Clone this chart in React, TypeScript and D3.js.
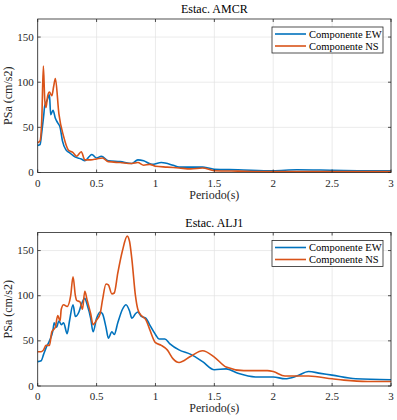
import React from 'react';
import * as d3 from 'd3';

// periods (s) and spectral accelerations (cm/s2)
const amcrEwT = [0, 0.02, 0.035, 0.05, 0.06, 0.08, 0.1, 0.11, 0.13, 0.15, 0.17, 0.19, 0.21, 0.24, 0.27, 0.32, 0.37, 0.4, 0.44, 0.46, 0.5, 0.54, 0.6, 0.7, 0.8, 0.85, 0.9, 0.97, 1.05, 1.15, 1.2, 1.3, 1.4, 1.45, 1.5, 1.7, 2.0, 2.2, 2.5, 2.8, 3.0];
const amcrEw = [30, 31, 45, 62, 74, 80, 86, 64, 69, 60, 55, 50, 35, 25, 22, 17, 15, 13, 18, 20, 16, 18, 13, 12, 10, 14, 13, 9, 11, 8, 6, 6, 6, 5, 3.5, 3, 2, 3, 2.5, 2, 2];
const amcrNsT = [0, 0.02, 0.035, 0.048, 0.06, 0.07, 0.085, 0.1, 0.12, 0.135, 0.15, 0.18, 0.22, 0.26, 0.3, 0.33, 0.37, 0.4, 0.45, 0.5, 0.55, 0.6, 0.7, 0.8, 0.85, 0.9, 0.95, 1.0, 1.1, 1.2, 1.3, 1.4, 1.5, 1.7, 2.0, 2.5, 3.0];
const amcrNs = [33, 35, 60, 118, 80, 72, 85, 89, 85, 95, 104, 65, 40, 25, 22, 18, 23, 14, 14, 15, 16, 12, 11, 10, 11, 8, 9, 7, 6, 5, 4, 5, 2, 1.5, 1, 1, 1];

const alj1EwT = [0, 0.03, 0.05, 0.07, 0.1, 0.13, 0.14, 0.16, 0.18, 0.2, 0.22, 0.25, 0.27, 0.3, 0.32, 0.35, 0.37, 0.4, 0.42, 0.45, 0.47, 0.5, 0.53, 0.55, 0.58, 0.6, 0.63, 0.65, 0.68, 0.72, 0.75, 0.78, 0.8, 0.83, 0.85, 0.88, 0.92, 0.95, 1.0, 1.03, 1.08, 1.12, 1.2, 1.3, 1.4, 1.5, 1.6, 1.7, 1.85, 2.0, 2.1, 2.2, 2.3, 2.4, 2.5, 2.7, 3.0];
const alj1Ew = [27, 28, 35, 42, 50, 62, 70, 65, 72, 68, 70, 58, 72, 90, 77, 82, 90, 97, 90, 75, 60, 75, 82, 80, 65, 53, 60, 57, 70, 85, 90, 83, 75, 80, 82, 77, 75, 68, 57, 52, 52, 47, 40, 35, 27, 18, 19, 14, 10, 10, 8, 11, 16, 14, 12, 8, 7];
const alj1NsT = [0, 0.03, 0.05, 0.07, 0.1, 0.12, 0.15, 0.17, 0.19, 0.2, 0.22, 0.25, 0.28, 0.3, 0.32, 0.33, 0.36, 0.38, 0.4, 0.42, 0.45, 0.47, 0.5, 0.53, 0.55, 0.58, 0.6, 0.63, 0.65, 0.68, 0.72, 0.76, 0.78, 0.8, 0.83, 0.85, 0.88, 0.92, 0.95, 1.0, 1.05, 1.1, 1.15, 1.2, 1.3, 1.4, 1.5, 1.6, 1.75, 1.95, 2.0, 2.1, 2.3, 2.5, 2.6, 2.8, 3.0];
const alj1Ns = [38, 38, 40, 45, 45, 60, 65, 78, 72, 85, 90, 88, 100, 121, 100, 95, 93, 85, 105, 95, 80, 68, 73, 80, 95, 113, 112, 102, 103, 125, 150, 166, 160, 140, 100, 85, 78, 73, 63, 48, 45, 40, 30, 26, 33, 39, 32, 21, 17, 17, 16, 11, 11, 8, 6.5, 5, 5];

const xTicks = [0, 0.5, 1, 1.5, 2, 2.5, 3];
const yTicks = [0, 50, 100, 150];
const seriesNames = ['Componente EW', 'Componente NS'];
const colors = ['#0072BD', '#D95319'];

const W = 397, H = 420;
const font = 'Liberation Serif';

function Panel({ top, title, ew, ewT, ns, nsT }: any) {
  const x = d3.scaleLinear().domain([0, 3]).range([37.7, 391]);
  const y = d3.scaleLinear().domain([0, 170]).range([top + 153.5, top]);
  const line = d3.line<[number, number]>()
    .x(d => x(d[0]))
    .y(d => y(d[1]))
    .curve(d3.curveMonotoneX);
  const ewPts = ewT.map((t: number, i: number) => [t, ew[i]] as [number, number]);
  const nsPts = nsT.map((t: number, i: number) => [t, ns[i]] as [number, number]);
  const [x0, x1] = x.range();
  const [y0, y1] = y.range();
  const lx = 272, ly = top + 8;
  return (
    <g fontFamily={font}>
      {xTicks.map(t => (
        <line key={'gx' + t} x1={x(t)} x2={x(t)} y1={y0} y2={y1} stroke="#e3e3e3" strokeWidth={0.7} />
      ))}
      {yTicks.map(t => (
        <line key={'gy' + t} x1={x0} x2={x1} y1={y(t)} y2={y(t)} stroke="#e3e3e3" strokeWidth={0.7} />
      ))}
      <path d={line(ewPts) || ''} fill="none" stroke={colors[0]} strokeWidth={1.6} />
      <path d={line(nsPts) || ''} fill="none" stroke={colors[1]} strokeWidth={1.6} />
      <rect x={x0} y={y1} width={x1 - x0} height={y0 - y1} fill="none" stroke="#262626" strokeWidth={0.8} />
      {xTicks.map(t => (
        <g key={'tx' + t}>
          <line x1={x(t)} x2={x(t)} y1={y0} y2={y0 - 3} stroke="#262626" strokeWidth={0.8} />
          <line x1={x(t)} x2={x(t)} y1={y1} y2={y1 + 3} stroke="#262626" strokeWidth={0.8} />
          <text x={x(t)} y={y0 + 14} textAnchor="middle" fontSize={11} fill="#262626">{t}</text>
        </g>
      ))}
      {yTicks.map(t => (
        <g key={'ty' + t}>
          <line x1={x0} x2={x0 + 3} y1={y(t)} y2={y(t)} stroke="#262626" strokeWidth={0.8} />
          <line x1={x1} x2={x1 - 3} y1={y(t)} y2={y(t)} stroke="#262626" strokeWidth={0.8} />
          <text x={x0 - 4} y={y(t) + 3.5} textAnchor="end" fontSize={11} fill="#262626">{t}</text>
        </g>
      ))}
      <text x={(x0 + x1) / 2} y={y1 - 6} textAnchor="middle" fontSize={12} fill="#000">{title}</text>
      <text x={(x0 + x1) / 2} y={y0 + 26} textAnchor="middle" fontSize={12} fill="#262626">Periodo(s)</text>
      <text transform={`translate(12,${(y0 + y1) / 2}) rotate(-90)`} textAnchor="middle" fontSize={12} fill="#262626">PSa (cm/s2)</text>
      <rect x={lx} y={ly} width={111} height={26} fill="#fff" stroke="#262626" strokeWidth={0.8} />
      {seriesNames.map((n, i) => (
        <g key={n}>
          <line x1={lx + 3} x2={lx + 34} y1={ly + 7 + i * 12} y2={ly + 7 + i * 12} stroke={colors[i]} strokeWidth={1.6} />
          <text x={lx + 37} y={ly + 10.5 + i * 12} fontSize={10.5} fill="#000">{n}</text>
        </g>
      ))}
    </g>
  );
}

export default function App() {
  return (
    <div style={{ position: 'absolute', left: 0, top: 0 }}>
      <svg width={W} height={H} style={{ display: 'block', background: '#fff' }}>
        <Panel top={19} title="Estac.  AMCR" ew={amcrEw} ewT={amcrEwT} ns={amcrNs} nsT={amcrNsT} />
        <Panel top={232.5} title="Estac.  ALJ1" ew={alj1Ew} ewT={alj1EwT} ns={alj1Ns} nsT={alj1NsT} />
      </svg>
    </div>
  );
}
